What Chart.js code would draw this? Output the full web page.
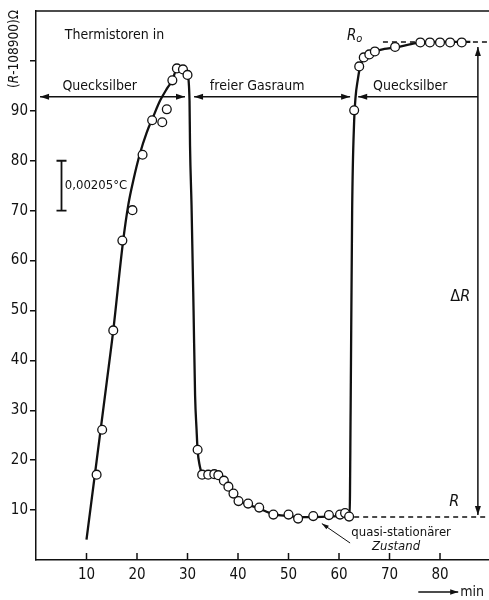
<!DOCTYPE html>
<html>
<head>
<meta charset="utf-8">
<script src="https://cdn.jsdelivr.net/npm/chart.js@4.4.1/dist/chart.umd.min.js"></script>
<style>
  html, body { margin: 0; padding: 0; background: #fff; }
  #wrap { width: 489px; height: 600px; }
</style>
</head>
<body>
<div id="wrap"><canvas id="chart" width="489" height="600"></canvas></div>
<script>
const FONT = '"Liberation Sans Narrow", "DejaVu Sans Condensed", "Arial Narrow", sans-serif';
const INK = "#111";

// measured points: time (min) and (R - 108900) Ohm
const measTime = [12.0, 13.1, 15.3, 17.1, 19.1, 21.1, 23.0, 25.0, 25.9, 27.0, 27.9, 29.1, 30.0,
  32.0, 32.9, 34.1, 35.3, 36.1, 37.2, 38.1, 39.1, 40.1, 42.0, 44.2, 47.0, 50.0, 51.9, 54.9, 58.0, 60.2, 61.2, 62.0,
  63.0, 64.0, 64.9, 66.0, 67.1, 71.1, 76.1, 78.0, 80.0, 82.0, 84.3];
const measValue = [17.1, 26.1, 46.0, 64.0, 70.1, 81.2, 88.1, 87.7, 90.3, 96.1, 98.5, 98.3, 97.2,
  22.1, 17.1, 17.1, 17.2, 17.0, 15.9, 14.7, 13.3, 11.8, 11.3, 10.5, 9.1, 9.1, 8.3, 8.8, 9.0, 9.1, 9.4, 8.7,
  90.1, 98.9, 100.7, 101.3, 101.9, 102.8, 103.7, 103.7, 103.7, 103.7, 103.7];

// hand-drawn fit curve
const curveTime = [10, 12, 14, 15.3, 17.2, 18.3, 19.3, 20.6, 21.9, 23.2,
  24.6, 25.9, 27.0, 27.9, 29.1, 30.0, 30.4, 30.5, 30.8, 31.2,
  31.5, 31.8, 32.0, 32.4, 33.0, 34.0, 35.3, 36.2, 37.2, 38.2,
  39.2, 40.2, 42.0, 44.2, 47.0, 50.0, 52.0, 55.0, 58.0, 60.0,
  62.1, 62.3, 62.6, 63.0, 63.3, 63.7, 64.2, 65.0, 66.0, 67.0,
  69.0, 71.1, 74.0, 76.0, 80.0, 86.0];
const curveValue = [4.1, 19.8, 35.6, 46, 63.5, 71.3, 76.2, 81.5, 85.6, 88.8,
  92.1, 94.4, 96.1, 98.4, 98.4, 97.3, 92, 83, 71, 50,
  33, 26, 22, 19, 17.2, 17, 17.1, 16.8, 15.8, 14.5,
  13.1, 11.9, 11.1, 10.3, 9.2, 8.8, 8.6, 8.6, 8.7, 8.8,
  8.8, 30, 70, 88, 93, 96.1, 99, 100.6, 101.4, 101.9,
  102.4, 102.7, 103.3, 103.7, 103.8, 103.8];

const levelR0 = 103.8;
const levelR = 8.6;
const r0DashTime = [68.7, 89.7];
const rDashTime = [63.0, 89.7];

const xTickValues = [10, 20, 30, 40, 50, 60, 70, 80];
const yTickValues = [10, 20, 30, 40, 50, 60, 70, 80, 90, 100];
const yTickLabels = ["10", "20", "30", "40", "50", "60", "70", "80", "90", ""];

const toXY = (xs, ys) => xs.map((t, i) => ({ x: t, y: ys[i] }));

function arrowHead(ctx, x1, y1, x2, y2, len, half) {
  const ang = Math.atan2(y2 - y1, x2 - x1);
  ctx.beginPath();
  ctx.moveTo(x2, y2);
  ctx.lineTo(x2 - len * Math.cos(ang) + half * Math.sin(ang), y2 - len * Math.sin(ang) - half * Math.cos(ang));
  ctx.lineTo(x2 - len * Math.cos(ang) - half * Math.sin(ang), y2 - len * Math.sin(ang) + half * Math.cos(ang));
  ctx.closePath();
  ctx.fill();
}

function arrow(ctx, x1, y1, x2, y2, headStart, headEnd, len = 9, half = 3) {
  ctx.beginPath();
  ctx.moveTo(x1, y1);
  ctx.lineTo(x2, y2);
  ctx.stroke();
  if (headEnd) arrowHead(ctx, x1, y1, x2, y2, len, half);
  if (headStart) arrowHead(ctx, x2, y2, x1, y1, len, half);
}

// pieces: [text, fontString, dy]
function richText(ctx, pieces, x, y, align) {
  let total = 0;
  for (const p of pieces) { ctx.font = p[1]; total += ctx.measureText(p[0]).width; }
  let cx = align === "center" ? x - total / 2 : x;
  ctx.textAlign = "left";
  for (const p of pieces) {
    ctx.font = p[1];
    ctx.fillText(p[0], cx, y + (p[2] || 0));
    cx += ctx.measureText(p[0]).width;
  }
}

const annotate = {
  id: "annotate",
  afterDraw(chart) {
    const { ctx, chartArea: a, scales: { x, y } } = chart;
    const px = (v) => x.getPixelForValue(v);
    const py = (v) => y.getPixelForValue(v);
    ctx.save();
    ctx.strokeStyle = INK;
    ctx.fillStyle = INK;
    ctx.lineWidth = 1.5;

    // top frame line
    ctx.beginPath();
    ctx.moveTo(a.left, a.top);
    ctx.lineTo(a.right, a.top);
    ctx.stroke();

    // inward x ticks
    for (const t of x.ticks) {
      const xx = px(t.value);
      ctx.beginPath();
      ctx.moveTo(xx, a.bottom);
      ctx.lineTo(xx, a.bottom - 7);
      ctx.stroke();
    }

    // phase arrows
    const ya = py(92.8);
    arrow(ctx, px(0.8), ya, px(29.5), ya, true, true);
    arrow(ctx, px(31.3), ya, px(62.2), ya, true, true);
    arrow(ctx, px(87.5), ya, px(63.8), ya, false, true);

    // delta R arrow
    arrow(ctx, px(87.5), py(9.0), px(87.5), py(102.8), true, true);

    // scale bar 0,00205 C
    const sx = px(5.05);
    ctx.lineWidth = 1.8;
    ctx.beginPath();
    ctx.moveTo(sx, py(80)); ctx.lineTo(sx, py(70));
    ctx.moveTo(sx - 5, py(80)); ctx.lineTo(sx + 5, py(80));
    ctx.moveTo(sx - 5, py(70)); ctx.lineTo(sx + 5, py(70));
    ctx.stroke();

    // pointer for quasi-stationary state
    ctx.lineWidth = 1;
    arrow(ctx, px(62.2), py(3.4), px(56.6), py(7.3), false, true, 7, 2.2);

    // min arrow on the x axis
    ctx.lineWidth = 1.3;
    const ym = a.bottom + 32;
    arrow(ctx, px(75.7), ym, px(83.6), ym, false, true, 8, 2.8);

    // texts
    ctx.textBaseline = "middle";
    const f = (s, st = "") => `${st} ${s}px ${FONT}`;
    ctx.font = f(14);
    ctx.textAlign = "left";
    ctx.fillText("Thermistoren in", px(5.7), py(105.2));
    ctx.textAlign = "center";
    ctx.fillText("Quecksilber", px(12.6), py(95.0));
    ctx.fillText("freier Gasraum", px(43.8), py(95.0));
    ctx.fillText("Quecksilber", px(74.1), py(95.0));

    ctx.font = f(13);
    ctx.textAlign = "left";
    ctx.fillText("0,00205°C", px(5.7), py(75));

    ctx.textAlign = "center";
    ctx.font = f(13);
    ctx.fillText("quasi-stationärer", px(72.3), py(5.4));
    ctx.font = f(13, "italic");
    ctx.fillText("Zustand", px(71.3), py(2.6));

    ctx.font = f(14);
    ctx.textAlign = "left";
    ctx.fillText("min", px(84.0), ym);

    richText(ctx, [["R", f(15, "italic")], ["o", f(11, "italic"), 3]], px(63.1), py(104.9), "center");
    richText(ctx, [["Δ", f(16)], ["R", f(16, "italic")]], px(84.0), py(52.7), "center");
    richText(ctx, [["R", f(16, "italic")]], px(82.8), py(11.6), "center");

    // y axis title, rotated
    ctx.save();
    ctx.translate(14, a.top + 38);
    ctx.rotate(-Math.PI / 2);
    richText(ctx, [["(", f(13.5)], ["R", f(13.5, "italic")], ["-108900)Ω", f(13.5)]], 0, 0, "center");
    ctx.restore();

    ctx.restore();
  },
};

new Chart(document.getElementById("chart"), {
  type: "scatter",
  data: {
    datasets: [
      {
        label: "Messpunkte",
        data: toXY(measTime, measValue),
        showLine: false,
        pointRadius: 4.4,
        pointBackgroundColor: "#fff",
        pointBorderColor: INK,
        pointBorderWidth: 1.3,
        order: 0,
      },
      {
        label: "Kurve",
        data: toXY(curveTime, curveValue),
        showLine: true,
        borderColor: INK,
        borderWidth: 2.3,
        pointRadius: 0,
        cubicInterpolationMode: "monotone",
        order: 1,
      },
      {
        label: "R0",
        data: r0DashTime.map((t) => ({ x: t, y: levelR0 })),
        showLine: true,
        borderColor: INK,
        borderWidth: 1.5,
        borderDash: [5, 4],
        pointRadius: 0,
        order: 2,
      },
      {
        label: "R",
        data: rDashTime.map((t) => ({ x: t, y: levelR })),
        showLine: true,
        borderColor: INK,
        borderWidth: 1.5,
        borderDash: [5, 4],
        pointRadius: 0,
        order: 2,
      },
    ],
  },
  options: {
    responsive: false,
    animation: false,
    layout: { autoPadding: false, padding: { top: 7, right: 0, left: 0, bottom: 0 } },
    plugins: { legend: { display: false }, tooltip: { enabled: false } },
    scales: {
      x: {
        type: "linear",
        min: 0,
        max: 89.7,
        afterBuildTicks: (s) => { s.ticks = xTickValues.map((v) => ({ value: v })); },
        afterFit: (s) => { s.height = 40; },
        grid: { display: false, drawTicks: false },
        border: { display: true, color: INK, width: 1.5 },
        ticks: { color: INK, font: { family: FONT, size: 15 }, padding: 6, maxRotation: 0, autoSkip: false },
      },
      y: {
        type: "linear",
        min: 0,
        max: 110,
        afterBuildTicks: (s) => { s.ticks = yTickValues.map((v) => ({ value: v })); },
        afterFit: (s) => { s.width = 36; },
        grid: { display: true, drawOnChartArea: false, drawTicks: true, tickLength: 6, color: INK, lineWidth: 1.5 },
        border: { display: true, color: INK, width: 1.5 },
        ticks: {
          color: INK,
          font: { family: FONT, size: 15 },
          padding: 2,
          autoSkip: false,
          callback: (v) => yTickLabels[yTickValues.indexOf(v)] ?? "",
        },
      },
    },
  },
  plugins: [annotate],
});
</script>
</body>
</html>
